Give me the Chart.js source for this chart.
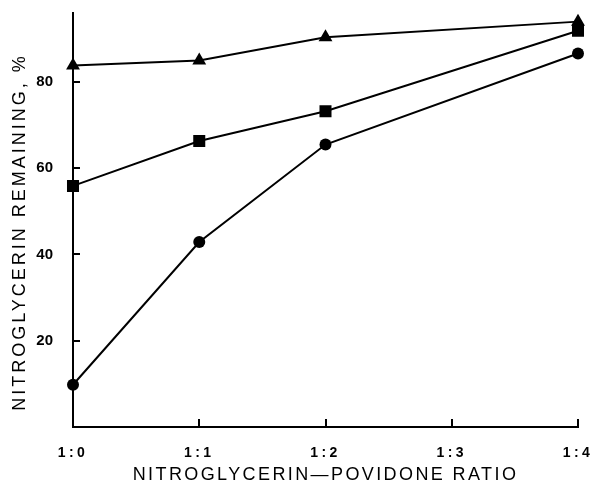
<!DOCTYPE html>
<html>
<head>
<meta charset="utf-8">
<script src="https://cdn.jsdelivr.net/npm/chart.js@4"></script>
<style>
  html, body { margin: 0; padding: 0; background: #fff; }
  #wrap { width: 596px; height: 482px; position: relative; }
</style>
</head>
<body>
<div id="wrap"><canvas id="c" width="596" height="482"></canvas></div>
<script>
const categories = ['1:0', '1:1', '1:2', '1:3', '1:4'];
const triangleValues = [83.8, 85.0, 90.4, null, 94.0];
const squareValues = [55.9, 66.3, 73.2, null, 91.9];
const circleValues = [9.8, 42.9, 65.5, null, 86.6];
const yTickValues = [20, 40, 60, 80];
const xTickLabels = ['1:1', '1:2', '1:3', '1:4'];
const xTitle = 'NITROGLYCERIN\u2014POVIDONE RATIO';
const yTitle = 'NITROGLYCERIN REMAINING, %';

const canvas = document.getElementById('c');
const ctx2d = canvas.getContext('2d');
const origFill = ctx2d.fillText.bind(ctx2d);
ctx2d.fillText = function (t, x, y, m) {
  let ls = '0px';
  let dx = 0;
  if (t === yTitle) { ls = '3.0px'; dx = -12; }
  else if (t === xTitle) ls = '2.4px';
  else if (categories.includes(t)) ls = '3.5px';
  this.letterSpacing = ls;
  if (m === undefined) origFill(t, x + dx, y); else origFill(t, x + dx, y, m);
  this.letterSpacing = '0px';
};

const insideTicks = {
  id: 'insideTicks',
  afterDatasetsDraw(chart) {
    const ctx = chart.ctx;
    const x = chart.scales.x, y = chart.scales.y;
    ctx.save();
    ctx.strokeStyle = '#000';
    ctx.lineWidth = 2;
    ctx.beginPath();
    yTickValues.forEach(v => {
      const py = Math.round(y.getPixelForValue(v));
      ctx.moveTo(x.left, py);
      ctx.lineTo(x.left + 7, py);
    });
    xTickLabels.forEach(l => {
      const px = Math.round(x.getPixelForValue(categories.indexOf(l)));
      ctx.moveTo(px, y.bottom);
      ctx.lineTo(px, y.bottom - 8);
    });
    ctx.stroke();
    ctx.restore();
  }
};

function ds(data, style, r) {
  return {
    data, pointStyle: style, pointRadius: r, pointHoverRadius: r,
    borderColor: '#000', backgroundColor: '#000', borderWidth: 2,
    pointBorderWidth: 0, spanGaps: true, tension: 0
  };
}

new Chart(ctx2d, {
  type: 'line',
  data: {
    labels: categories,
    datasets: [
      ds(triangleValues, 'triangle', 8),
      ds(squareValues, 'rect', 8.5),
      ds(circleValues, 'circle', 6)
    ]
  },
  plugins: [insideTicks],
  options: {
    responsive: false,
    animation: false,
    events: [],
    layout: { padding: { left: 0, right: 18, top: 13, bottom: 0 } },
    plugins: { legend: { display: false }, tooltip: { enabled: false } },
    scales: {
      x: {
        offset: false,
        grid: { display: false, drawTicks: false },
        border: { display: true, color: '#000', width: 2 },
        afterFit(scale) { scale.height = 55; scale.paddingLeft = 0; scale.paddingRight = 0; },
        ticks: {
          color: '#000', padding: 18, maxRotation: 0, autoSkip: false,
          font: { family: 'Liberation Sans', size: 14, weight: 'bold' }
        },
        title: {
          display: true, text: xTitle, color: '#000',
          font: { family: 'Liberation Sans', size: 18, lineHeight: 1 }, padding: { top: 0, bottom: -2 }
        }
      },
      y: {
        min: 0, max: 96,
        grid: { display: false, drawTicks: false },
        border: { display: true, color: '#000', width: 2 },
        afterBuildTicks(scale) { scale.ticks = yTickValues.map(v => ({ value: v })); },
        afterFit(scale) { scale.width = 73; scale.paddingTop = 0; scale.paddingBottom = 0; },
        ticks: {
          color: '#000', padding: 20,
          font: { family: 'Liberation Sans', size: 15, weight: 'bold' }
        },
        title: {
          display: true, text: yTitle, color: '#000',
          font: { family: 'Liberation Sans', size: 18, lineHeight: 1 }, padding: { top: 11, bottom: 0 }
        }
      }
    }
  }
});
</script>
</body>
</html>
